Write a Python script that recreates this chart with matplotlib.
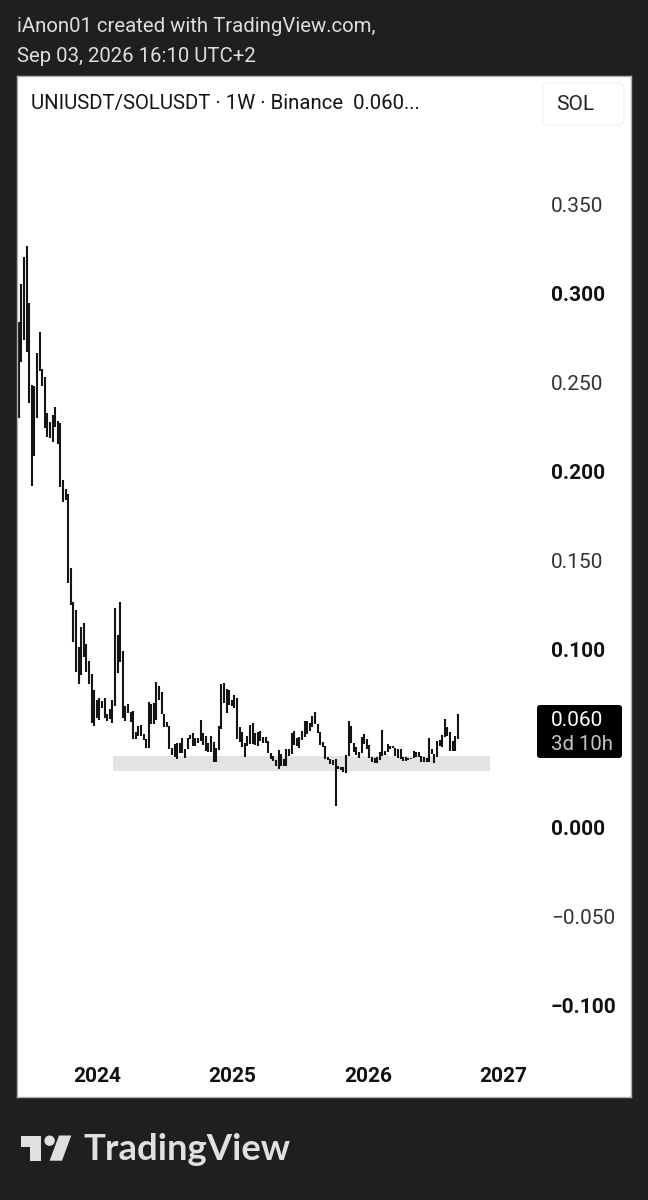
import matplotlib
matplotlib.use("Agg")
import matplotlib.pyplot as plt
import matplotlib.dates as mdates
from matplotlib.patches import FancyBboxPatch, Polygon, Circle
from matplotlib.transforms import Affine2D
import pandas as pd

plt.rcParams['font.family'] = ['Roboto', 'DejaVu Sans']

highs = [.2838,.3052,.3203,.3267,.2945,.2486,.2480,.2664,.2784,.2574,
         .2529,.2327,.2280,.2317,.2364,.2282,.2274,.1952,.1900,.1874,
         .1460,.1265,.1222,.1016,.1128,.1147,.1029,.0935,.0861,.0772,
         .0716,.0726,.0711,.0729,.0638,.0664,.0716,.1231,.1081,.1265,
         .0992,.0684,.0692,.0651,.0656,.0535,.0572,.0574,.0524,.0497,
         .0703,.0692,.0698,.0817,.0795,.0761,.0638,.0591,.0572,.0445,
         .0467,.0476,.0473,.0501,.0439,.0504,.0520,.0529,.0501,.0501,
         .0604,.0529,.0516,.0476,.0514,.0479,.0445,.0570,.0806,.0810,
         .0776,.0772,.0716,.0744,.0729,.0566,.0535,.0476,.0516,.0576,
         .0589,.0529,.0535,.0544,.0507,.0507,.0486,.0417,.0402,.0379,
         .0435,.0411,.0383,.0439,.0439,.0529,.0542,.0501,.0507,.0544,
         .0597,.0597,.0589,.0626,.0647,.0581,.0535,.0482,.0458,.0394,
         .0383,.0379,.0387,.0346,.0342,.0342,.0409,.0600,.0572,.0473,
         .0454,.0426,.0510,.0524,.0496,.0463,.0394,.0392,.0394,.0424,
         .0548,.0430,.0469,.0460,.0460,.0445,.0439,.0441,.0394,.0394,
         .0389,.0390,.0431,.0422,.0422,.0400,.0398,.0390,.0501,.0439,
         .0413,.0488,.0492,.0520,.0610,.0566,.0535,.0488,.0514,.0638]
lows = [.2299,.2613,.2739,.2671,.2387,.1920,.2087,.2302,.2566,.2482,
        .2243,.2192,.2188,.2167,.2252,.2154,.1911,.1827,.1840,.1375,
        .1250,.1040,.0872,.0808,.0857,.0956,.0875,.0804,.0585,.0572,
        .0617,.0602,.0670,.0617,.0600,.0610,.0589,.0684,.0866,.0931,
        .0617,.0600,.0642,.0593,.0497,.0497,.0516,.0516,.0492,.0445,
        .0448,.0580,.0580,.0604,.0716,.0638,.0566,.0566,.0443,.0409,
        .0398,.0387,.0420,.0417,.0392,.0439,.0496,.0460,.0460,.0476,
        .0486,.0463,.0430,.0426,.0426,.0370,.0366,.0435,.0552,.0698,
        .0645,.0688,.0684,.0670,.0497,.0479,.0451,.0396,.0458,.0467,
        .0467,.0463,.0458,.0488,.0473,.0473,.0417,.0383,.0374,.0346,
        .0330,.0347,.0347,.0347,.0402,.0413,.0463,.0458,.0448,.0492,
        .0507,.0524,.0544,.0566,.0580,.0533,.0463,.0454,.0383,.0379,
        .0355,.0351,.0122,.0327,.0323,.0310,.0308,.0402,.0473,.0426,
        .0407,.0392,.0417,.0469,.0439,.0392,.0366,.0361,.0364,.0379,
        .0402,.0406,.0426,.0443,.0445,.0402,.0392,.0385,.0374,.0374,
        .0379,.0383,.0389,.0394,.0398,.0370,.0370,.0366,.0366,.0413,
        .0364,.0394,.0460,.0454,.0507,.0516,.0430,.0428,.0428,.0497]
weeks = pd.date_range(end='2026-08-31', periods=len(highs), freq='7D')
price_ticks = [0.35, 0.30, 0.25, 0.20, 0.15, 0.10, 0.05, 0.00, -0.05, -0.10]
price_labels = ['0.350', '0.300', '0.250', '0.200', '0.150', '0.100', '', '0.000', '\u22120.050', '\u22120.100']
bold_prices = ['0.300', '0.200', '0.100', '0.000', '\u22120.100']
years = ['2024', '2025', '2026', '2027']
support_zone = (0.0319, 0.0402)
support_dates = ('2024-02-15', '2026-11-25')

DARK = '#1f1f1f'
fig = plt.figure(figsize=(6.48, 12), dpi=100, facecolor=DARK)
px = Affine2D().scale(1, -1).translate(0, 1200)   # pixel layout helper for the page furniture

ax = fig.add_axes([17/648, 1-1097/1200, 614/648, 1021/1200], facecolor='white')
ax.set_ylim(-0.1514, 0.4222)
ax.set_xlim(mdates.date2num(pd.Timestamp('2023-05-31')), mdates.date2num(pd.Timestamp('2027-12-11')))
for s in ax.spines.values():
    s.set_color('#b0b0b0')
    s.set_linewidth(1)

ax.axhspan(support_zone[0], support_zone[1],
           xmin=(mdates.date2num(pd.Timestamp(support_dates[0]))-ax.get_xlim()[0])/(ax.get_xlim()[1]-ax.get_xlim()[0]),
           xmax=(mdates.date2num(pd.Timestamp(support_dates[1]))-ax.get_xlim()[0])/(ax.get_xlim()[1]-ax.get_xlim()[0]),
           color='#e3e3e3', lw=0, zorder=1)
ax.vlines(mdates.date2num(weeks), lows, highs, colors='#141414', linewidth=1.5, capstyle='butt', zorder=2)

ax.yaxis.tick_right()
ax.set_yticks(price_ticks)
ax.set_yticklabels(price_labels)
ax.tick_params(axis='y', length=0, pad=-57.6, labelsize=15, labelcolor='#333333')
for lab in ax.get_yticklabels():
    lab.set_ha('left')
    if lab.get_text() in bold_prices:
        lab.set_fontweight('bold')
        lab.set_color('#111111')
ax.set_xticks([mdates.date2num(pd.Timestamp(f'{y}-01-01')) for y in years])
ax.set_xticklabels(years)
ax.tick_params(axis='x', length=0, pad=-21.5, labelsize=15, labelcolor='#111111')
for lab in ax.get_xticklabels():
    lab.set_fontweight('bold')

def ptext(x, y, s, **kw):
    kw.setdefault('va', 'center')
    kw.setdefault('ha', 'left')
    return fig.text(x, y, s, transform=px, **kw)

ptext(17, 27, 'iAnon01 created with TradingView.com,', color='#dedede', fontsize=14.65)
ptext(17, 56, 'Sep 03, 2026 16:10 UTC+2', color='#dedede', fontsize=14.65)
ptext(31, 103, 'UNIUSDT/SOLUSDT \u00b7 1W \u00b7 Binance  0.060...', color='#141414', fontsize=14.7)

fig.add_artist(FancyBboxPatch((547, 87), 73, 34, boxstyle='round,pad=4,rounding_size=6', transform=px,
                              facecolor='white', edgecolor='#f0f0f0', lw=0.8))
ptext(575.5, 105, 'SOL', ha='center', color='#222222', fontsize=15)

fig.add_artist(FancyBboxPatch((539, 707), 81, 49, boxstyle='round,pad=2,rounding_size=3', transform=px,
                              facecolor='black', edgecolor='none'))
ptext(551, 721, '0.060', color='white', fontsize=15)
ptext(551, 745, '3d 10h', color='#c4c4c4', fontsize=14.7)

# TradingView mark
LOGO = '#e0e0e0'
fig.add_artist(Polygon([(20.7, 1135.5), (41.3, 1135.5), (41.3, 1160.7), (29.8, 1160.7), (29.8, 1146.7), (20.7, 1146.7)],
                       transform=px, facecolor=LOGO, edgecolor='none'))
fig.add_artist(Circle((49.6, 1140.7), 5.2, transform=px, facecolor=LOGO, edgecolor='none'))
fig.add_artist(Polygon([(59, 1135.5), (71.3, 1135.5), (62, 1160.7), (49.6, 1160.7)],
                       transform=px, facecolor=LOGO, edgecolor='none'))
ptext(83.5, 1150, 'TradingView', color=LOGO, fontsize=26.3, fontweight='bold', family=['Lato', 'DejaVu Sans'])

fig.savefig('out.png', dpi=100, facecolor=DARK)
